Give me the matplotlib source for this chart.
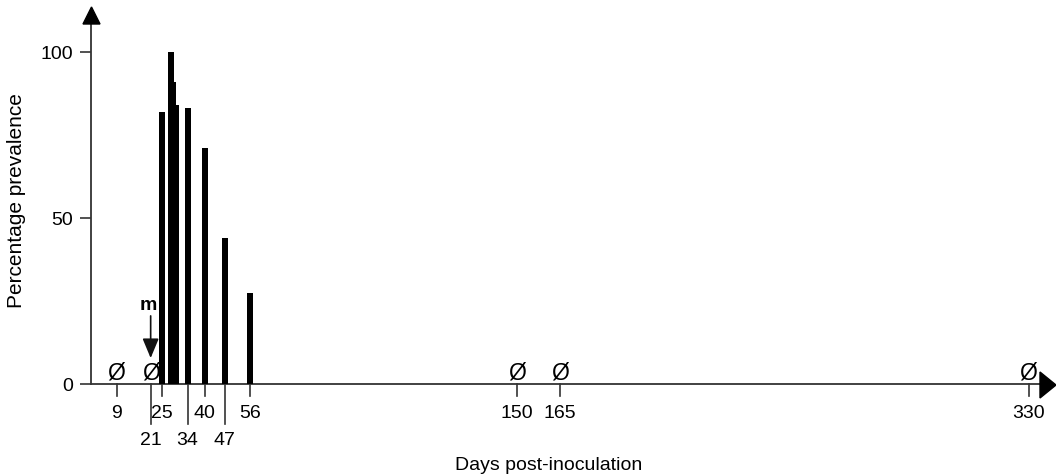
import matplotlib.pyplot as plt
import numpy as np

plt.rcParams['font.family'] = ['Liberation Sans', 'DejaVu Sans']

# bars: day of sampling and percentage prevalence
bar_days = [25, 28, 29, 30, 34, 40, 47, 56]
bar_prev = [82, 100, 91, 84, 83, 71, 44, 27.5]

# days with zero prevalence (marked with Ø)
zero_days = [9, 21, 150, 165, 330]

# tick labels, upper row and lower row
row1_ticks = [9, 25, 40, 56, 150, 165, 330]
row2_ticks = [21, 34, 47]

y_ticks = [0, 50, 100]
m_day = 21

W, H = 1056, 477
fig = plt.figure(figsize=(W / 100, H / 100), dpi=100)
# axes placed in pixels: x=91..1040, y=385 (0) .. 13 (top)
ax = fig.add_axes([91 / W, (H - 385) / H, (1040 - 91) / W, (385 - 13) / H])
xmax = (1040 - 91) / 2.841
ax.set_xlim(0, xmax)
ax.set_ylim(0, 112)

for s in ['top', 'right']:
    ax.spines[s].set_visible(False)
for s in ['left', 'bottom']:
    ax.spines[s].set_color('#333333')
    ax.spines[s].set_linewidth(1.3)

# bars, taller ones in front
order = np.argsort(bar_prev)
for i in order:
    ax.bar(bar_days[i], bar_prev[i], width=2.1, color='black',
           zorder=3 + bar_prev[i] / 100)

# zero markers
for d in zero_days:
    ax.text(d, 0.3, 'Ø', ha='center', va='bottom', fontsize=16.5, zorder=5)

# arrow marking m
ax.annotate('', xy=(m_day, 7.8), xytext=(m_day, 20.5),
            arrowprops=dict(arrowstyle='-|>,head_width=0.5,head_length=1.2',
                            color='#111111', lw=1.2, shrinkA=0, shrinkB=0))
ax.text(m_day - 0.8, 21.5, 'm', ha='center', va='bottom', fontsize=14,
        fontweight='bold')

# y axis
ax.set_yticks(y_ticks)
ax.set_yticklabels([str(v) for v in y_ticks], fontsize=14)
ax.tick_params(axis='y', length=8, width=1.2, color='#333333', pad=5)
ax.set_ylabel('Percentage prevalence', fontsize=15)
ax.yaxis.set_label_coords(-0.069, 0.495)

# x axis: two rows of ticks, drawn by hand below the axis
ax.set_xticks([])
trans = ax.get_xaxis_transform()
for d in row1_ticks:
    ax.plot([d, d], [0, -0.033], color='#333333', lw=1.2, transform=trans,
            clip_on=False)
    ax.text(d, -0.055, str(d), ha='center', va='top', fontsize=14,
            transform=trans)
for d in row2_ticks:
    ax.plot([d, d], [0, -0.108], color='#333333', lw=1.2, transform=trans,
            clip_on=False)
    ax.text(d, -0.126, str(d), ha='center', va='top', fontsize=14,
            transform=trans)

fig.text(549 / W, 1 - 466 / H, 'Days post-inoculation', ha='center',
         va='center', fontsize=14)

# arrow heads on axes
fig.patches.append(plt.Polygon([[83 / W, 1 - 25 / H], [100 / W, 1 - 25 / H],
                                [91.5 / W, 1 - 8 / H]], closed=True,
                               color='black', transform=fig.transFigure))
fig.patches.append(plt.Polygon([[1040 / W, 1 - 373 / H], [1040 / W, 1 - 399 / H],
                                [1056 / W, 1 - 386 / H]], closed=True,
                               color='black', transform=fig.transFigure))

fig.savefig('out.png', dpi=100)
